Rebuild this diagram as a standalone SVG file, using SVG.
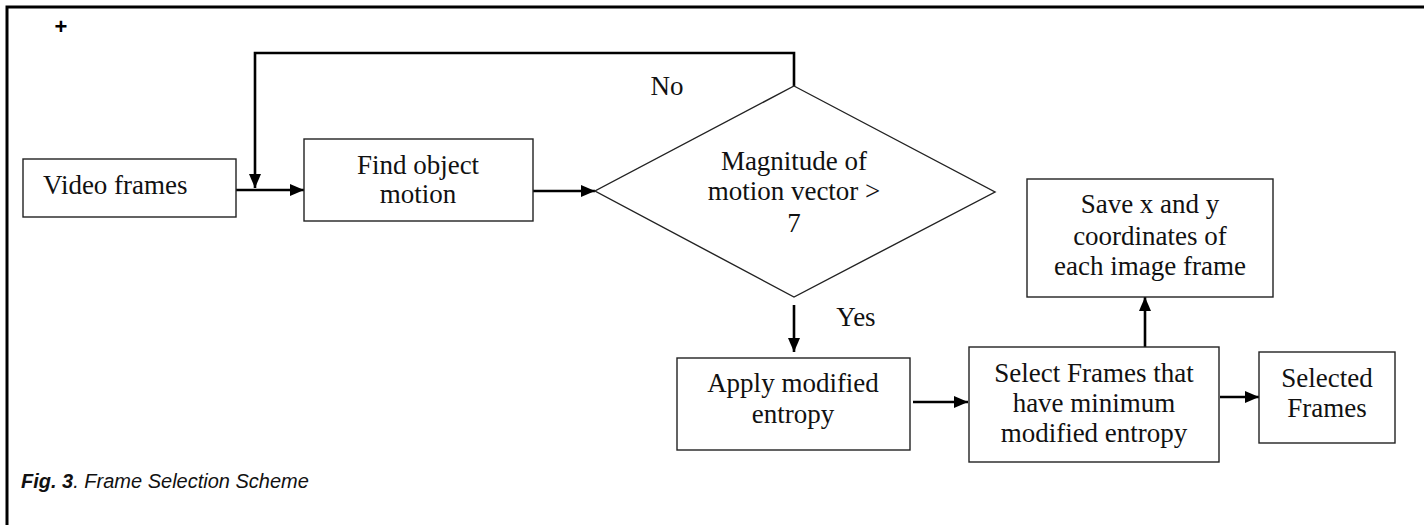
<svg xmlns="http://www.w3.org/2000/svg" width="1424" height="525" viewBox="0 0 1424 525">
<style>
.box{fill:#fff;stroke:#222;stroke-width:1.4}
.t{font-family:"Liberation Serif","Times New Roman",serif;font-size:27px;fill:#111;text-anchor:middle}
.c{fill:none;stroke:#000;stroke-width:2.6}
.frame{fill:none;stroke:#000;stroke-width:3}
</style>
<defs>
<marker id="ah" viewBox="0 0 14 12" refX="14" refY="6" markerWidth="14" markerHeight="12" markerUnits="userSpaceOnUse" orient="auto">
<path d="M0,0 L14,6 L0,12 Z" fill="#000"/>
</marker>
</defs>
<rect width="1424" height="525" fill="#fff"/>
<path class="frame" d="M7,525 V7 H1424"/>
<text x="61" y="34" font-family="Liberation Sans,Arial,sans-serif" font-size="22" font-weight="bold" text-anchor="middle">+</text>

<g id="connectors">
<path class="c" d="M794,86 V53 H255 V188" marker-end="url(#ah)"/>
<line class="c" x1="236" y1="190" x2="304" y2="190" marker-end="url(#ah)"/>
<line class="c" x1="533" y1="191" x2="595" y2="191" marker-end="url(#ah)"/>
<line class="c" x1="794" y1="305" x2="794" y2="352" marker-end="url(#ah)"/>
<line class="c" x1="913" y1="402" x2="968" y2="402" marker-end="url(#ah)"/>
<line class="c" x1="1145" y1="347" x2="1145" y2="297" marker-end="url(#ah)"/>
<line class="c" x1="1220" y1="397" x2="1259" y2="397" marker-end="url(#ah)"/>
<text class="t" x="667" y="95">No</text>
<text class="t" x="856" y="326">Yes</text>
</g>

<g id="video">
<rect class="box" x="23" y="159" width="213" height="58"/>
<text class="t" x="43" y="194" style="text-anchor:start">Video frames</text>
</g>

<g id="find">
<rect class="box" x="304" y="139" width="229" height="82"/>
<text class="t" x="418" y="174">Find object</text>
<text class="t" x="418" y="203">motion</text>
</g>

<g id="decision">
<polygon class="box" points="794,86 995,192 794,297 595,191"/>
<text class="t" x="794" y="170">Magnitude of</text>
<text class="t" x="794" y="200">motion vector &gt;</text>
<text class="t" x="794" y="232">7</text>
</g>

<g id="apply">
<rect class="box" x="677" y="358" width="233" height="92"/>
<text class="t" x="793" y="392">Apply modified</text>
<text class="t" x="793" y="423">entropy</text>
</g>

<g id="select">
<rect class="box" x="969" y="347" width="250" height="115"/>
<text class="t" x="1094" y="382">Select Frames that</text>
<text class="t" x="1094" y="412">have minimum</text>
<text class="t" x="1094" y="442">modified entropy</text>
</g>

<g id="save">
<rect class="box" x="1027" y="179" width="246" height="118"/>
<text class="t" x="1150" y="213">Save x and y</text>
<text class="t" x="1150" y="245">coordinates of</text>
<text class="t" x="1150" y="275">each image frame</text>
</g>

<g id="selected">
<rect class="box" x="1259" y="352" width="136" height="91"/>
<text class="t" x="1327" y="387">Selected</text>
<text class="t" x="1327" y="417">Frames</text>
</g>

<text x="21" y="488" font-family="Liberation Sans,Arial,sans-serif" font-size="20" font-style="italic" fill="#111"><tspan font-weight="bold">Fig. 3</tspan>. Frame Selection Scheme</text>
</svg>
